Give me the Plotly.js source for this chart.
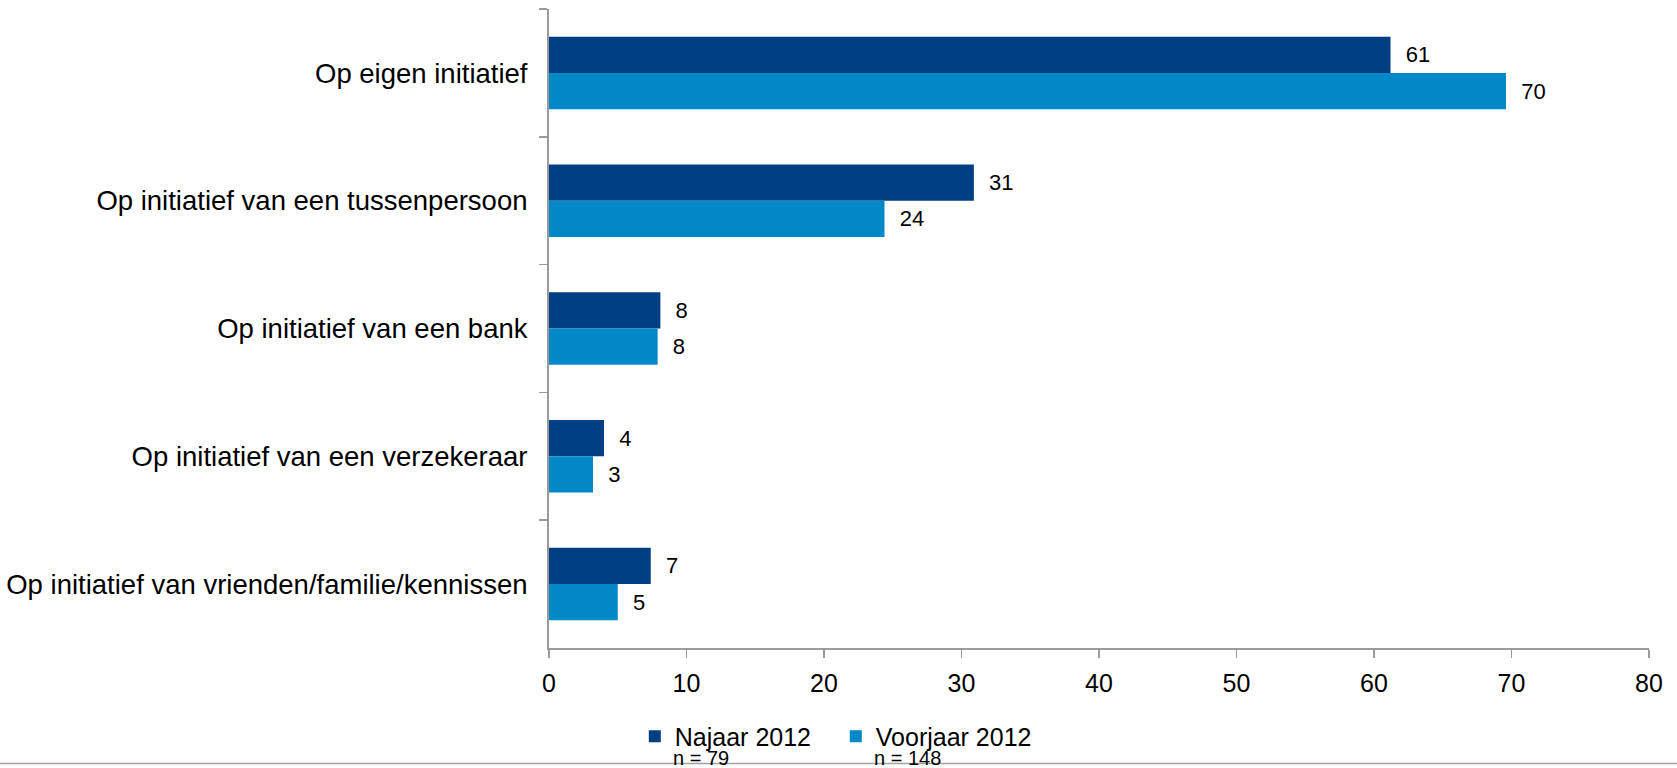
<!DOCTYPE html>
<html>
<head>
<meta charset="utf-8">
<script src="https://cdn.plot.ly/plotly-3.0.1.min.js"></script>
<style>
  html, body { margin: 0; padding: 0; background: #ffffff; }
  #chart { width: 1677px; height: 768px; }
</style>
</head>
<body>
<div id="chart"></div>
<script>
const categories = [
  "Op eigen initiatief",
  "Op initiatief van een tussenpersoon",
  "Op initiatief van een bank",
  "Op initiatief van een verzekeraar",
  "Op initiatief van vrienden/familie/kennissen"
];
const najaar2012 = [61.2, 30.9, 8.1, 4.0, 7.4];
const voorjaar2012 = [69.6, 24.4, 7.9, 3.2, 5.0];
const seriesNames = ["Najaar 2012", "Voorjaar 2012"];
const sampleSizes = ["n = 79", "n = 148"];
const xTicks = [0, 10, 20, 30, 40, 50, 60, 70, 80];

const FONT = "Liberation Sans, Arial, sans-serif";
const DARK = "#003F84";
const LIGHT = "#0088C7";

function barTrace(name, values, color) {
  return {
    type: "bar",
    orientation: "h",
    name: name,
    y: categories,
    x: values,
    marker: { color: color, line: { width: 0 } },
    texttemplate: "\u00a0\u00a0%{x:.0f}",
    textposition: "outside",
    cliponaxis: false,
    textfont: { family: FONT, size: 22, color: "#000000" },
    hoverinfo: "y+x"
  };
}

const data = [
  barTrace(seriesNames[0], najaar2012, DARK),
  barTrace(seriesNames[1], voorjaar2012, LIGHT)
];

const layout = {
  width: 1677,
  height: 768,
  margin: { l: 549, r: 28, t: 9, b: 117, pad: 0 },
  paper_bgcolor: "#ffffff",
  plot_bgcolor: "#ffffff",
  font: { family: FONT, color: "#000000" },
  barmode: "group",
  bargap: 0.433,
  bargroupgap: 0,
  showlegend: true,
  xaxis: {
    range: [0, 80],
    tickvals: xTicks,
    ticktext: xTicks.map(String),
    showgrid: false,
    zeroline: false,
    showline: true,
    linecolor: "#9a9a9a",
    linewidth: 2,
    ticks: "outside",
    ticklen: 8,
    tickwidth: 1.5,
    tickcolor: "#9a9a9a",
    ticklabelstandoff: 4,
    tickfont: { family: FONT, size: 25, color: "#000000" },
    fixedrange: true
  },
  yaxis: {
    type: "category",
    autorange: "reversed",
    showgrid: false,
    zeroline: false,
    showline: true,
    linecolor: "#9a9a9a",
    linewidth: 2,
    ticks: "outside",
    tickson: "boundaries",
    ticklen: 8,
    tickwidth: 1.5,
    tickcolor: "#9a9a9a",
    ticklabelstandoff: 14,
    tickfont: { family: FONT, size: 27.5, color: "#000000" },
    fixedrange: true
  },
  legend: {
    orientation: "h",
    x: 0.078,
    xanchor: "left",
    y: -0.1385,
    yanchor: "middle",
    font: { family: FONT, size: 25, color: "#000000" },
    entrywidth: 156,
    entrywidthmode: "pixels",
    itemwidth: 30,
    bgcolor: "rgba(0,0,0,0)",
    borderwidth: 0
  },
  annotations: [
    { text: sampleSizes[0], xref: "paper", yref: "paper", x: 0.1109, y: -0.1715,
      xanchor: "left", yanchor: "middle", showarrow: false,
      font: { family: FONT, size: 20, color: "#000000" } },
    { text: sampleSizes[1], xref: "paper", yref: "paper", x: 0.2936, y: -0.1715,
      xanchor: "left", yanchor: "middle", showarrow: false,
      font: { family: FONT, size: 20, color: "#000000" } }
  ],
  shapes: [
    { type: "line", xref: "paper", yref: "paper",
      x0: -0.5, x1: 1.03, y0: -0.1807, y1: -0.1807,
      line: { color: "#a8a0a0", width: 1.5 } }
  ]
};

Plotly.newPlot("chart", data, layout, { displayModeBar: false, staticPlot: true });
</script>
</body>
</html>
